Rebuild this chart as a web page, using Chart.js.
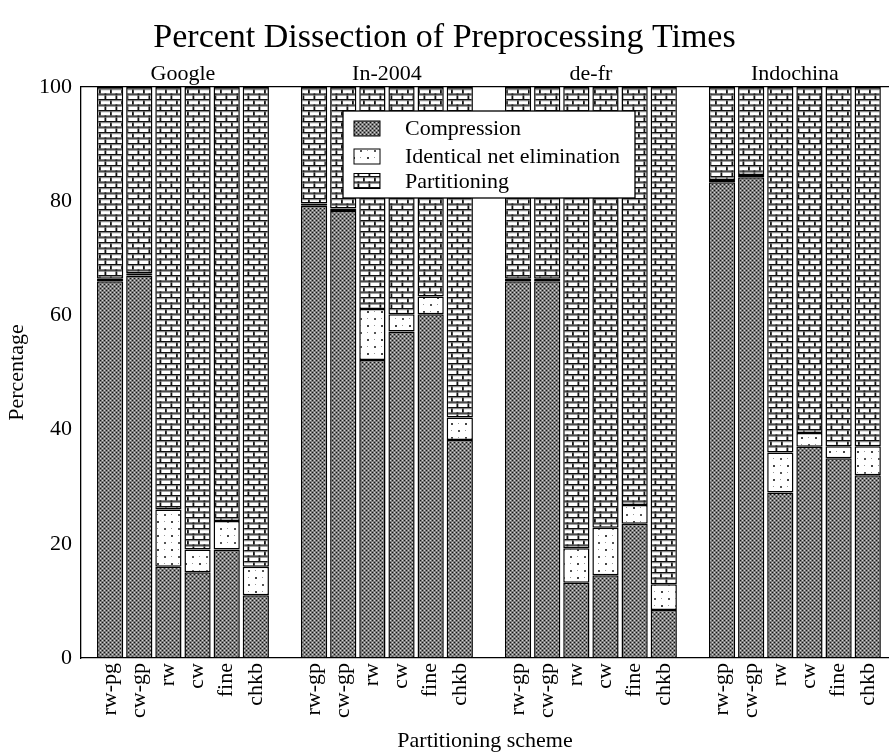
<!DOCTYPE html>
<html lang="en">
<head>
<meta charset="UTF-8">
<title>Percent Dissection of Preprocessing Times</title>
<style>
  * { margin: 0; padding: 0; box-sizing: border-box; }
  body { background: #fff; }
  #wrap { width: 889px; height: 754px; }
</style>
</head>
<body>
<div id="wrap"><canvas id="chart"></canvas></div>
<script src="https://cdn.jsdelivr.net/npm/chart.js"></script>
<script>
// graphs and the partitioning schemes run on each of them
const groups = ['Google', 'In-2004', 'de-fr', 'Indochina'];
const schemes = [
  'rw-pg', 'cw-gp', 'rw', 'cw', 'fine', 'chkb',
  'rw-gp', 'cw-gp', 'rw', 'cw', 'fine', 'chkb',
  'rw-gp', 'cw-gp', 'rw', 'cw', 'fine', 'chkb',
  'rw-gp', 'cw-gp', 'rw', 'cw', 'fine', 'chkb'
];

// share of preprocessing time (%) per phase
const compression  = [66, 67, 16, 15, 19, 11,   79.2, 78.3, 52.2, 57.2, 60.2, 38.2,   66, 66, 13.2, 14.5, 23.5, 8.4,   83.3, 84.2, 29, 37, 35, 32];
const netElim      = [0.4, 0.4, 10, 4, 5, 5,    0.4, 0.4, 8.9, 3, 3.1, 3.9,         0.4, 0.4, 6, 8.3, 3.3, 4.5,     0.4, 0.4, 7, 2.4, 2.1, 5.1];
const partitioning = [33.6, 32.6, 74, 81, 76, 84,  20.4, 21.3, 38.9, 39.8, 36.7, 57.9,  33.6, 33.6, 80.8, 77.2, 73.2, 87.1,  16.3, 15.4, 64, 60.6, 62.9, 62.9];

const yTicks = [0, 20, 40, 60, 80, 100];

// bars sit on a linear x axis: 6 bars per graph, one empty slot between graphs
const barPos = schemes.map((s, i) => 1 + Math.floor(i / 6) * 7 + (i % 6));
const groupPos = groups.map((g, i) => 3.5 + i * 7);
const X_MAX = 27.73;

function makePattern(w, h, paint) {
  const c = document.createElement('canvas');
  c.width = w; c.height = h;
  const g = c.getContext('2d');
  paint(g);
  return g.createPattern(c, 'repeat');
}

// dark stipple
const stipple = makePattern(4, 4, g => {
  g.fillStyle = '#7c7c7c'; g.fillRect(0, 0, 4, 4);
  g.fillStyle = '#141414'; g.fillRect(0, 0, 1, 1); g.fillRect(2, 2, 1, 1);
  g.fillStyle = '#d4d4d4'; g.fillRect(2, 0, 1, 1); g.fillRect(0, 2, 1, 1);
});

// sparse dots on white
const sparseDots = makePattern(14, 14, g => {
  g.fillStyle = '#fff'; g.fillRect(0, 0, 14, 14);
  g.fillStyle = '#444'; g.fillRect(3, 3, 2, 2);
  g.fillStyle = '#555'; g.fillRect(10, 10, 2, 2);
  g.fillStyle = '#999'; g.fillRect(10, 3, 1, 1); g.fillRect(3, 10, 1, 1);
});

// brick wall
const bricks = makePattern(11, 11, g => {
  g.fillStyle = '#fff'; g.fillRect(0, 0, 11, 11);
  g.fillStyle = '#111';
  g.fillRect(0, 0, 11, 1.3);
  g.fillRect(0, 5.5, 11, 1.3);
  g.fillRect(0, 0, 1.8, 5.5);
  g.fillRect(5.5, 5.5, 1.8, 5.5);
  g.fillStyle = '#777';
  g.fillRect(0, 1.3, 11, 0.9);
  g.fillRect(0, 6.8, 11, 0.9);
});

Chart.defaults.font.family = "'Liberation Serif', 'Times New Roman', serif";
Chart.defaults.font.size = 22;
Chart.defaults.color = '#000';

function series(label, values, fill) {
  return {
    label: label,
    data: values.map((v, i) => ({ x: barPos[i], y: v })),
    backgroundColor: fill,
    borderColor: '#000',
    borderWidth: 1.5,
    borderSkipped: false,
    barPercentage: 0.9,
    categoryPercentage: 1
  };
}

// boxed legend in the upper middle of the plot
const boxLegend = {
  id: 'boxLegend',
  afterDraw(chart) {
    const { ctx, chartArea } = chart;
    const x = chartArea.left + 262, y = chartArea.top + 24, w = 292, h = 87;
    const rowY = [17.5, 45.5, 70];
    ctx.save();
    ctx.fillStyle = '#fff';
    ctx.fillRect(x, y, w, h);
    ctx.strokeStyle = '#000';
    ctx.lineWidth = 1.3;
    ctx.strokeRect(x, y, w, h);
    ctx.font = "22px 'Liberation Serif', 'Times New Roman', serif";
    ctx.textBaseline = 'middle';
    chart.data.datasets.forEach((ds, i) => {
      const cy = y + rowY[i];
      ctx.fillStyle = ds.backgroundColor;
      ctx.fillRect(x + 11, cy - 7.5, 26, 15);
      ctx.lineWidth = 1;
      ctx.strokeRect(x + 11, cy - 7.5, 26, 15);
      ctx.fillStyle = '#000';
      ctx.fillText(ds.label, x + 62, cy + 1);
    });
    ctx.restore();
  }
};

new Chart(document.getElementById('chart'), {
  type: 'bar',
  data: {
    datasets: [
      series('Compression', compression, stipple),
      series('Identical net elimination', netElim, sparseDots),
      series('Partitioning', partitioning, bricks)
    ]
  },
  options: {
    responsive: true,
    maintainAspectRatio: false,
    animation: false,
    layout: { padding: 0 },
    plugins: {
      legend: { display: false },
      tooltip: { enabled: false },
      title: {
        display: true,
        text: 'Percent Dissection of Preprocessing Times',
        font: { size: 34, weight: 'normal' },
        padding: { top: 18, bottom: 0 }
      }
    },
    scales: {
      x: {
        type: 'linear',
        position: 'bottom',
        stacked: true,
        offset: false,
        min: 0,
        max: X_MAX,
        grid: { display: false, drawTicks: false },
        border: { display: true, color: '#000', width: 1.3 },
        afterBuildTicks: axis => { axis.ticks = barPos.map(v => ({ value: v })); },
        ticks: {
          autoSkip: false,
          minRotation: 90,
          maxRotation: 90,
          padding: 5,
          callback: (v, i) => schemes[i]
        },
        title: { display: true, text: 'Partitioning scheme', padding: { top: 0, bottom: 0 } },
        afterFit: axis => { axis.height = 96; axis.paddingLeft = 0; axis.paddingRight = 0; }
      },
      xTop: {
        type: 'linear',
        position: 'top',
        offset: false,
        min: 0,
        max: X_MAX,
        grid: { display: false, drawTicks: false },
        border: { display: true, color: '#000', width: 1.3 },
        afterBuildTicks: axis => { axis.ticks = groupPos.map(v => ({ value: v })); },
        ticks: {
          autoSkip: false,
          maxRotation: 0,
          padding: 0,
          callback: (v, i) => groups[i]
        },
        afterFit: axis => { axis.height = 28.2; axis.paddingLeft = 0; axis.paddingRight = 0; }
      },
      y: {
        stacked: true,
        min: 0,
        max: 100,
        grid: { display: false, drawTicks: false },
        border: { display: true, color: '#000', width: 1.3 },
        afterBuildTicks: axis => { axis.ticks = yTicks.map(v => ({ value: v })); },
        ticks: { padding: 9 },
        title: { display: true, text: 'Percentage', padding: { top: 4, bottom: 0 } },
        afterFit: axis => { axis.width = 81; axis.paddingTop = 0; axis.paddingBottom = 0; }
      }
    }
  },
  plugins: [boxLegend]
});
</script>
</body>
</html>
